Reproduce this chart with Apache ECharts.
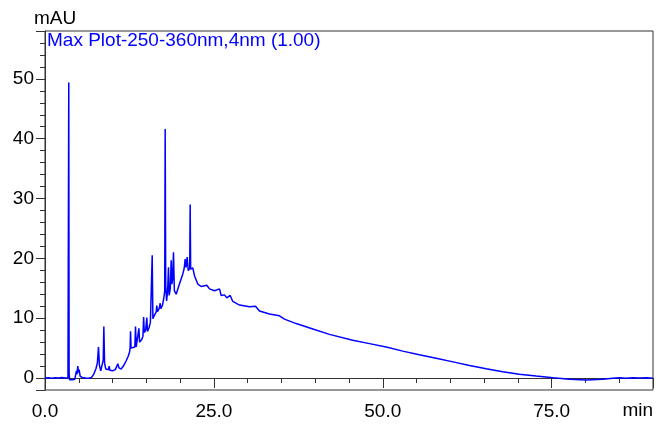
<!DOCTYPE html>
<html>
<head>
<meta charset="utf-8">
<script src="https://cdn.jsdelivr.net/npm/echarts@6/dist/echarts.min.js"></script>
<style>
  html, body { margin: 0; padding: 0; background: #fff; }
  #chart { width: 657px; height: 425px; }
</style>
</head>
<body>
<div id="chart"></div>
<script>
// Chromatogram trace: retention time (min) and absorbance (mAU)
const timeMin = [
  0.0, 0.5, 1.0, 1.5, 2.0, 2.5, 3.0, 3.4, 3.47, 3.52, 3.57, 3.65, 3.8, 4.1, 4.4,
  4.55, 4.65, 4.72, 4.86, 4.95, 5.05, 5.2, 5.5, 6.0, 6.5, 6.9, 7.2, 7.55, 7.75,
  7.92, 8.05, 8.25, 8.5, 8.62, 8.71, 8.82, 9.0, 9.2, 9.4, 9.5, 9.6, 10.0, 10.4,
  10.6, 10.78, 10.95, 11.27, 11.6, 12.0, 12.3, 12.5, 12.6, 12.66, 12.74, 13.0,
  13.3, 13.4, 13.5, 13.75, 13.9, 14.0, 14.3, 14.5, 14.6, 14.7, 14.9, 15.07,
  15.17, 15.4, 15.6, 15.75, 15.87, 15.97, 16.2, 16.45, 16.55, 16.65, 16.9,
  17.05, 17.15, 17.4, 17.6, 17.72, 17.79, 17.87, 18.0, 18.15, 18.28, 18.38,
  18.55, 18.68, 18.78, 18.9, 19.02, 19.15, 19.42, 19.9, 20.4, 20.6, 20.75,
  20.88, 21.05, 21.2, 21.42, 21.49, 21.56, 21.64, 21.88, 22.13, 22.62, 23.12,
  23.95, 24.35, 25.09, 25.83, 26.08, 26.57, 26.91, 27.41, 27.8, 28.79, 30.27,
  31.16, 31.75, 33.23, 34.71, 34.96, 35.45, 37.18, 39.64, 42.11, 45.56, 48.03,
  50.5, 52.96, 55.4, 57.9, 60.4, 62.84, 65.3, 67.76, 70.2, 72.7, 75.2, 77.64,
  80.1, 82.56, 84.04, 85.0, 86.0, 87.0, 88.0, 89.0, 90.0
];
const absorbance = [
  0.0, 0.05, -0.05, 0.05, 0.0, 0.1, 0.0, 0.05, 0.3, 49.4, 0.8, -0.3, -0.5, -0.3, -0.2,
  0.6, 1.2, 0.6, 2.0, 0.9, 1.4, 0.3, 0.1, 0.0, -0.05, 0.1, 0.6, 1.6, 2.5,
  5.2, 2.2, 1.2, 1.3, 3.0, 8.6, 2.5, 1.5, 1.2, 1.4, 2.0, 1.3, 1.2, 1.4,
  1.9, 2.4, 1.7, 1.5, 2.0, 2.85, 3.6, 4.25, 5.0, 7.8, 5.0, 4.8,
  5.2, 8.6, 5.2, 5.4, 8.3, 6.0, 6.4, 7.0, 10.2, 7.6, 8.0, 10.1,
  7.8, 8.4, 9.3, 9.6, 20.5, 9.9, 10.5, 11.0, 12.1, 11.1, 11.6,
  12.5, 11.6, 12.2, 13.5, 14.5, 41.6, 15.5, 12.9, 14.5, 18.5, 13.8,
  15.0, 19.7, 15.7, 16.5, 21.0, 14.6, 14.0, 15.7, 17.4, 18.3, 19.9,
  18.5, 20.2, 17.95, 18.3, 29.0, 18.2, 17.95, 18.4, 17.1, 15.7, 15.3,
  15.5, 14.9, 14.6, 14.9, 13.8, 13.9, 13.4, 13.8, 12.8, 12.2, 11.9,
  12.0, 11.2, 10.7, 10.4, 10.3, 9.85, 9.1, 8.2, 7.3, 6.3, 5.75,
  5.2, 4.5, 3.9, 3.3, 2.7, 2.1, 1.55, 1.06, 0.65, 0.34, 0.05, -0.2,
  -0.34, -0.2, -0.05, 0.05, -0.05, 0.05, 0.0, 0.05, -0.05
];

// Axis ranges and labels
const xRange = [0, 90];
const yRange = [-2, 58];
const xLabelStep = 25;
const yLabelStep = 10;
const yUnit = 'mAU';
const xUnit = 'min';
const traceTitle = 'Max Plot-250-360nm,4nm (1.00)';

const points = timeMin.map((t, i) => [t, absorbance[i]]);

const FONT = 'Liberation Sans, Arial, Helvetica, sans-serif';
const INK = '#333333';
const labelStyle = { color: '#000', fontSize: 19, fontFamily: FONT };

const chart = echarts.init(document.getElementById('chart'), null, { renderer: 'canvas' });

chart.setOption({
  animation: false,
  backgroundColor: '#ffffff',
  grid: {
    left: 45, top: 31, right: 4, bottom: 35,
    show: true, borderColor: INK, borderWidth: 1, backgroundColor: 'transparent'
  },
  xAxis: [
    {
      type: 'value', min: xRange[0], max: xRange[1], interval: 5, position: 'bottom',
      axisLine: { show: true, lineStyle: { color: INK, width: 1 } },
      axisTick: { show: true, length: 5, lineStyle: { color: INK } },
      axisLabel: { show: false },
      splitLine: { show: false }
    },
    {
      type: 'value', min: xRange[0], max: xRange[1], interval: xLabelStep, position: 'bottom',
      axisLine: { show: false },
      axisTick: { show: true, length: 10, lineStyle: { color: INK } },
      axisLabel: Object.assign({
        margin: 12,
        formatter: v => (v % xLabelStep === 0 ? v.toFixed(1) : '')
      }, labelStyle),
      splitLine: { show: false }
    }
  ],
  yAxis: [
    {
      type: 'value', min: yRange[0], max: yRange[1], interval: 2, position: 'left',
      axisLine: { show: true, lineStyle: { color: INK, width: 1 } },
      axisTick: { show: true, length: 5, lineStyle: { color: INK } },
      axisLabel: { show: false },
      splitLine: { show: false }
    },
    {
      type: 'value', min: yRange[0], max: yRange[1], splitNumber: 6, position: 'left',
      axisLine: { show: false },
      axisTick: { show: true, length: 9, lineStyle: { color: INK } },
      axisLabel: Object.assign({
        margin: 11,
        formatter: v => (v % yLabelStep === 0 ? String(v) : '')
      }, labelStyle),
      splitLine: { show: false }
    }
  ],
  series: [{
    type: 'line',
    xAxisIndex: 0,
    yAxisIndex: 0,
    data: points,
    showSymbol: false,
    smooth: false,
    lineStyle: { color: '#0000ff', width: 1.5 },
    z: 3
  }],
  graphic: [
    { type: 'text', left: 34, top: 9, style: { text: yUnit, fill: '#000', font: '19px ' + FONT } },
    { type: 'text', left: 47, top: 31, style: { text: traceTitle, fill: '#0000ff', font: '19px ' + FONT } },
    { type: 'text', right: 4, top: 401, style: { text: xUnit, fill: '#000', font: '19px ' + FONT } }
  ]
});
</script>
</body>
</html>
